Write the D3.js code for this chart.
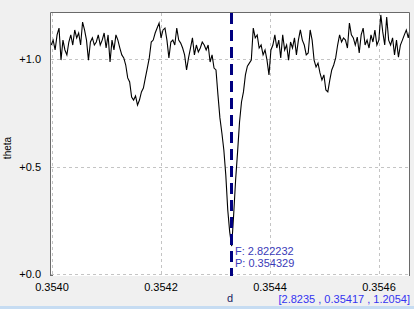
<!DOCTYPE html>
<html>
<head>
<meta charset="utf-8">
<script src="https://cdn.jsdelivr.net/npm/d3@7"></script>
<style>
html,body{margin:0;padding:0;background:#f0f0f0;}
svg{display:block;font-family:"Liberation Sans",Arial,sans-serif;}
</style>
</head>
<body>
<svg id="chart" width="414" height="309"></svg>
<script>
// ---- data ----
const dStart = 0.3539985;
const dStep = 0.0000036;
const thetaValues = [
1.065,1.088,1.042,1.112,1.144,0.995,1.088,1.042,1.019,1.079,1.112,1.065,1.135,1.098,1.121,1.065,1.172,1.135,1.088,0.995,
1.079,1.098,1.065,1.079,1.112,1.065,1.088,1.121,1.051,1.112,0.986,1.088,1.042,1.112,1.088,1.051,1.019,1.005,0.972,0.912,0.893,
0.823,0.809,0.828,0.786,0.809,0.847,0.865,0.912,0.958,1.005,1.079,1.088,1.121,1.144,1.167,1.098,1.135,1.144,1.088,1.005,
1.079,1.088,1.065,1.144,1.088,1.074,1.051,1.019,0.949,1.005,1.051,1.098,1.019,1.065,1.033,1.051,1.079,1.065,1.042,1.065,
0.986,1.019,0.958,
0.949,0.833,0.726,0.656,0.577,0.460,0.298,0.195,0.130,0.274,0.437,0.567,0.707,0.800,0.847,0.926,0.967,0.981,0.995,
1.144,1.098,1.112,1.051,1.065,1.019,1.042,0.995,0.926,1.042,1.065,1.112,1.051,1.088,1.005,1.112,1.042,1.065,0.995,1.079,
1.051,1.098,1.019,1.088,1.135,1.088,1.065,1.019,1.028,1.135,1.088,0.995,0.963,0.981,0.935,0.902,0.926,0.856,0.847,0.902,
0.949,0.972,1.005,1.065,1.112,1.079,1.098,1.088,1.051,1.167,1.112,1.098,1.065,1.102,1.028,1.112,1.144,1.065,1.088,1.051,
1.112,1.079,1.135,1.065,1.088,1.205,1.126,1.065,1.195,1.088,1.065,1.098,1.019,1.088,1.009,1.065,1.088,1.112,1.135,1.098,
1.144
];
const xTicks = [0.3540, 0.3542, 0.3544, 0.3546];
const xTickLabels = ["0.3540", "0.3542", "0.3544", "0.3546"];
const yTicks = [0.0, 0.5, 1.0];
const yTickLabels = ["+0.0", "+0.5", "+1.0"];
const markerD = 0.354329;
const markerF = 2.822232;
const markerLabels = ["F: 2.822232", "P: 0.354329"];
const statusText = "[2.8235 , 0.35417 , 1.2054]";
const xLabel = "d";
const yLabel = "theta";

// ---- layout ----
const plot = {left: 50, top: 12, right: 409, bottom: 276};
const x = d3.scaleLinear().domain([0.3540, 0.3546]).range([52, 379]);
const y = d3.scaleLinear().domain([0, 1]).range([274, 59]);

const svg = d3.select("#chart");
svg.append("rect").attr("x",0).attr("y",0).attr("width",414).attr("height",309).attr("fill","#f0f0f0");
svg.append("rect").attr("x",0).attr("y",306).attr("width",414).attr("height",3).attr("fill","#c6dcf2");

svg.append("defs").append("clipPath").attr("id","clip")
  .append("rect").attr("x",plot.left+1).attr("y",plot.top+1)
  .attr("width",plot.right-plot.left-1).attr("height",plot.bottom-plot.top-1);

svg.append("rect").attr("x",plot.left).attr("y",plot.top)
  .attr("width",plot.right-plot.left).attr("height",plot.bottom-plot.top)
  .attr("fill","#ffffff");

// grid
const grid = svg.append("g").attr("stroke","#c4c4c4").attr("stroke-dasharray","3,3").attr("stroke-width",1);
xTicks.forEach(t => {
  const px = Math.round(x(t)) + 0.5;
  grid.append("line").attr("x1",px).attr("x2",px).attr("y1",plot.top+1).attr("y2",plot.bottom);
});
yTicks.forEach(t => {
  const py = Math.round(y(t)) + 0.5;
  grid.append("line").attr("x1",plot.left+1).attr("x2",plot.right).attr("y1",py).attr("y2",py);
});

// frame
svg.append("path")
  .attr("d",`M${plot.left+0.5},${plot.bottom}V${plot.top+0.5}H${plot.right+0.5}V${plot.bottom}`)
  .attr("fill","none").attr("stroke","#6a6a6a").attr("stroke-width",1);
svg.append("line").attr("x1",plot.left).attr("x2",plot.left+3).attr("y1",plot.bottom-0.5).attr("y2",plot.bottom-0.5).attr("stroke","#6a6a6a");

// data line
const data = thetaValues.map((v,i) => ({d: dStart + i*dStep, t: v}));
const line = d3.line().x(p => x(p.d)).y(p => y(p.t));
svg.append("path").datum(data)
  .attr("clip-path","url(#clip)")
  .attr("d", line)
  .attr("fill","none").attr("stroke","#000").attr("stroke-width",1.1)
  .attr("stroke-linejoin","miter");

// marker line
const mx = Math.round(x(markerD)) + 0.5;
svg.append("line").attr("x1",mx).attr("x2",mx).attr("y1",plot.top+1).attr("y2",plot.bottom)
  .attr("stroke","#000080").attr("stroke-width",3).attr("stroke-dasharray","11,6");

svg.append("g").selectAll("text").data(markerLabels).join("text")
  .attr("x", mx + 3.5).attr("y",(d,i) => 255 + i*12)
  .attr("font-size","11px").attr("fill","#3a3ab8").text(d => d);

// axes labels
svg.append("g").selectAll("text").data(yTicks).join("text")
  .attr("x",41).attr("y",t => y(t)+4).attr("text-anchor","end")
  .attr("font-size","11px").attr("fill","#000").text((t,i) => yTickLabels[i]);
svg.append("g").selectAll("text").data(xTicks).join("text")
  .attr("x",t => x(t)).attr("y",291).attr("text-anchor","middle")
  .attr("font-size","11px").attr("fill","#000").text((t,i) => xTickLabels[i]);

svg.append("text").attr("transform","translate(11,148) rotate(-90)")
  .attr("text-anchor","middle").attr("font-size","10px").attr("fill","#000").text(yLabel);
svg.append("text").attr("x",230).attr("y",302).attr("text-anchor","middle")
  .attr("font-size","11px").attr("fill","#1a1a60").text(xLabel);
svg.append("text").attr("x",410).attr("y",303).attr("text-anchor","end")
  .attr("font-size","11px").attr("fill","#3434f0").text(statusText);
</script>
</body>
</html>
